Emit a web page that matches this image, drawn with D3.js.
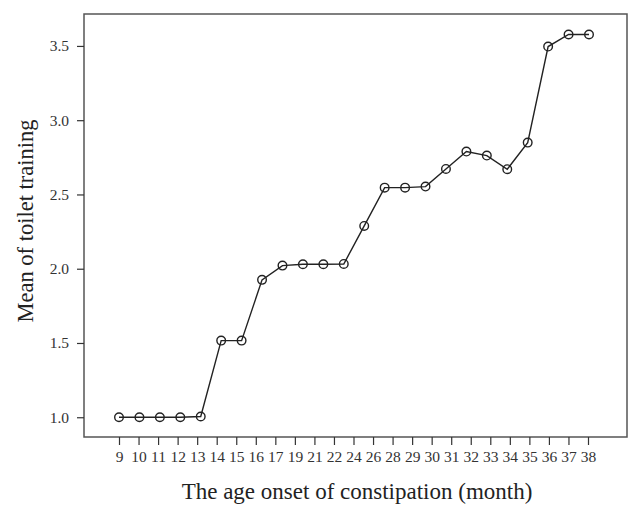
<!DOCTYPE html>
<html><head><meta charset="utf-8">
<script src="https://cdn.jsdelivr.net/npm/d3@7"></script>
<style>body{margin:0;background:#fff}svg{display:block}</style>
</head><body>
<svg id="c" width="642" height="514"></svg>
<script>
const categories = ["9","10","11","12","13","14","15","16","17","19","21","22","24","26","28","29","30","31","32","33","34","35","36","37","38"];
const means = [1.0,1.0,1.0,1.0,1.005,1.516,1.516,1.925,2.021,2.03,2.03,2.032,2.288,2.546,2.546,2.553,2.672,2.789,2.762,2.670,2.849,3.496,3.577,3.577];
const yTicks = [1.0,1.5,2.0,2.5,3.0,3.5];

const svg = d3.select("#c");
const L=84, T=14, R=627, B=437;
const x = d3.scalePoint().domain(categories).range([119,588]);
const xi = d3.scalePoint().domain(d3.range(means.length)).range([119,589]);
const y = d3.scaleLinear().domain([0.867,3.715]).range([B,T]);

svg.append("rect").attr("x",L).attr("y",T).attr("width",R-L).attr("height",B-T)
  .attr("fill","none").attr("stroke","#555").attr("stroke-width",1.5);

const font = "'Liberation Serif','DejaVu Serif',serif";
const gx = svg.append("g").attr("transform",`translate(0,${B})`)
  .call(d3.axisBottom(x).tickSize(8).tickSizeOuter(0).tickPadding(6));
gx.select(".domain").remove();
gx.selectAll("line").attr("stroke","#333").attr("stroke-width",1.2);
gx.selectAll("text").attr("font-family",font).attr("font-size",15.5).attr("fill","#333");

const gy = svg.append("g").attr("transform",`translate(${L},0)`)
  .call(d3.axisLeft(y).tickValues(yTicks).tickFormat(d3.format(".1f")).tickSize(7).tickPadding(8));
gy.select(".domain").remove();
gy.selectAll("line").attr("stroke","#333").attr("stroke-width",1.2);
gy.selectAll("text").attr("font-family",font).attr("font-size",15.5).attr("fill","#333");

const line = d3.line().x((d,i)=>xi(i)).y(d=>y(d));
svg.append("path").datum(means).attr("d",line).attr("fill","none")
  .attr("stroke","#222").attr("stroke-width",1.4);
svg.selectAll("circle.p").data(means).join("circle").attr("class","p")
  .attr("cx",(d,i)=>xi(i)).attr("cy",d=>y(d)).attr("r",4.3)
  .attr("fill","#fff").attr("fill-opacity",0).attr("stroke","#222").attr("stroke-width",1.4);

svg.append("text").attr("x",357).attr("y",499).attr("text-anchor","middle")
  .attr("font-family",font).attr("font-size",23).attr("fill","#222")
  .text("The age onset of constipation (month)");
svg.append("text").attr("transform","translate(33,221) rotate(-90)").attr("text-anchor","middle")
  .attr("font-family",font).attr("font-size",22.5).attr("fill","#222")
  .text("Mean of toilet training");
</script>
</body></html>
